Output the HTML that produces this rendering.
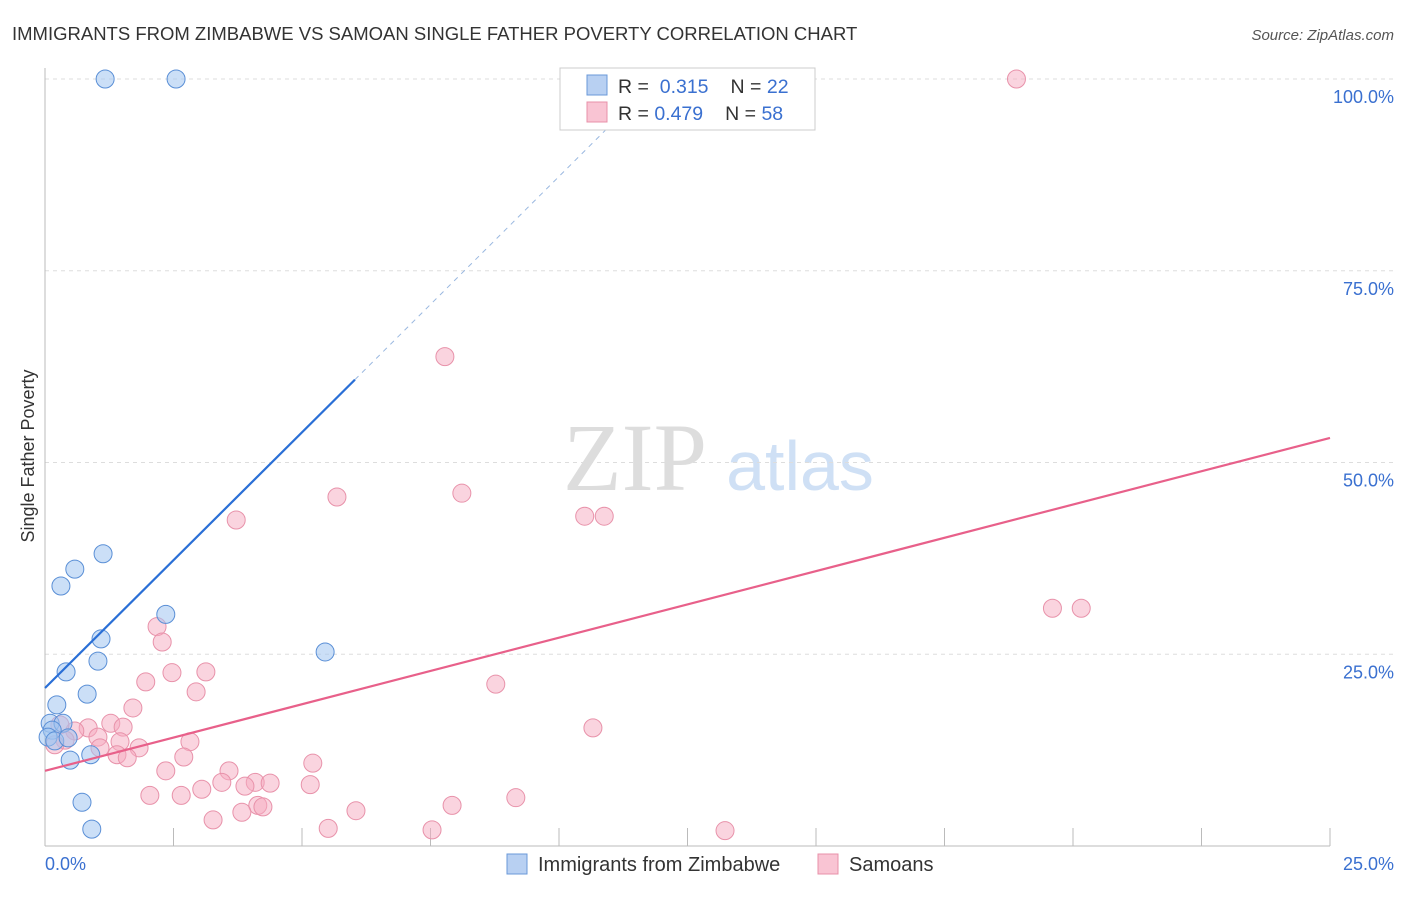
<!DOCTYPE html>
<html><head><meta charset="utf-8"><style>
body{margin:0;background:#fff;font-family:"Liberation Sans",sans-serif;}
</style></head><body>
<svg width="1406" height="892" xmlns="http://www.w3.org/2000/svg" font-family="Liberation Sans, sans-serif">
<text x="12" y="40" font-size="18.5" fill="#333">IMMIGRANTS FROM ZIMBABWE VS SAMOAN SINGLE FATHER POVERTY CORRELATION CHART</text>
<text x="1394" y="40" font-size="15" fill="#555" text-anchor="end" font-style="italic">Source: ZipAtlas.com</text>
<text x="635" y="490" font-size="96" fill="#ddd" font-family="Liberation Serif, serif" text-anchor="middle">ZIP</text>
<text x="800" y="490" font-size="70" fill="#cfe0f5" text-anchor="middle">atlas</text>
<g id="grid"></g>
<line x1="45" y1="68" x2="45" y2="846" stroke="#bbb"/>
<line x1="45" y1="846" x2="1330" y2="846" stroke="#bbb"/>
<text x="34" y="456" font-size="18" fill="#333" transform="rotate(-90 34 456)" text-anchor="middle">Single Father Poverty</text>
<text x="45" y="870" font-size="18" fill="#3a70d0">0.0%</text>
<text x="1394" y="870" font-size="18" fill="#3a70d0" text-anchor="end">25.0%</text>
<g id="marks"></g>
<g>
<rect x="560" y="68" width="255" height="62" fill="#fff" stroke="#ccc"/>
<rect x="587" y="75" width="20" height="20" fill="#b8d0f2" stroke="#6a98d8"/>
<rect x="587" y="102" width="20" height="20" fill="#f9c4d3" stroke="#e890a8"/>
<text x="618" y="93" font-size="19.5" fill="#333">R = <tspan fill="#3a70d0">&#160;0.315</tspan><tspan dx="22">N = </tspan><tspan fill="#3a70d0">22</tspan></text>
<text x="618" y="120" font-size="19.5" fill="#333">R = <tspan fill="#3a70d0">0.479</tspan><tspan dx="22">N = </tspan><tspan fill="#3a70d0">58</tspan></text>
</g>
<g>
<rect x="507" y="854" width="20" height="20" fill="#b8d0f2" stroke="#6a98d8"/>
<text x="538" y="871" font-size="20" fill="#333">Immigrants from Zimbabwe</text>
<rect x="818" y="854" width="20" height="20" fill="#f9c4d3" stroke="#e890a8"/>
<text x="849" y="871" font-size="20" fill="#333">Samoans</text>
</g>
</svg>
<script>
const yTicks=[25,50,75,100];
const yTickLabels=["25.0%","50.0%","75.0%","100.0%"];
const xTicks=[2.5,5,7.5,10,12.5,15,17.5,20,22.5,25];
const blueX=[1.17,2.55,1.13,0.58,0.31,2.35,1.09,1.03,0.41,0.82,0.23,5.45,0.10,0.35,0.14,0.06,0.19,0.45,0.49,0.89,0.72,0.91];
const blueY=[100,100,38.1,36.1,33.9,30.2,27.0,24.1,22.7,19.8,18.4,25.3,16.0,16.0,15.1,14.2,13.7,14.1,11.2,11.9,5.7,2.2];
const pinkX=[18.9,7.78,5.68,8.11,3.72,10.5,10.88,19.6,20.16,2.18,2.28,2.47,3.13,1.96,8.77,2.94,1.71,1.28,1.52,10.66,0.84,0.58,1.03,0.29,1.46,2.82,1.83,1.07,1.40,1.60,2.70,5.21,2.35,3.58,3.44,4.09,4.38,3.89,5.16,3.05,2.04,2.65,9.16,4.14,4.24,7.92,6.05,3.83,3.27,5.51,7.53,13.23,0.39,0.19];
const pinkY=[100,63.8,45.5,46.0,42.5,43.0,43.0,31.0,31.0,28.6,26.6,22.6,22.7,21.4,21.1,20.1,18.0,16.0,15.5,15.4,15.4,15.0,14.2,15.8,13.6,13.6,12.8,12.8,11.9,11.5,11.6,10.8,9.8,9.8,8.3,8.3,8.2,7.8,8.0,7.4,6.6,6.6,6.3,5.3,5.1,5.3,4.6,4.4,3.4,2.3,2.1,2.0,13.8,13.2];
const blueTrend=[[0,20.6],[6.03,60.8]];
const blueDash=[[6.03,60.8],[10.9,93.3]];
const pinkTrend=[[0,9.8],[25,53.2]];
const NS="http://www.w3.org/2000/svg";
const sx=v=>45+v/25*1285, sy=v=>846-v*7.67;
const grid=document.getElementById('grid'), marks=document.getElementById('marks');
function mk(tag,attrs,parent){const e=document.createElementNS(NS,tag);for(const k in attrs)e.setAttribute(k,attrs[k]);parent.appendChild(e);return e;}
yTicks.forEach((t,i)=>{
 const l=mk('line',{x1:45,x2:1394,y1:sy(t),y2:sy(t),stroke:'#ddd','stroke-dasharray':'4,4'},grid);
 
 
 const tx=mk('text',{x:1394,y:sy(t)+24,'font-size':18,fill:'#3a70d0','text-anchor':'end'},grid);
 tx.textContent=yTickLabels[i];
 
 
});
xTicks.forEach(t=>{
 const l=mk('line',{x1:sx(t),x2:sx(t),y1:828,y2:846,stroke:'#bbb'},grid);
 
 
});
function line(p,st,dash,name){const l=mk('line',{x1:sx(p[0][0]),y1:sy(p[0][1]),x2:sx(p[1][0]),y2:sy(p[1][1]),stroke:st,'stroke-width':dash?1:2.2},marks);if(dash)l.setAttribute('stroke-dasharray','5,5');
 
 }
pinkX.forEach((x,i)=>{const c=mk('circle',{cx:sx(x),cy:sy(pinkY[i]),r:9,fill:'rgba(246,170,192,0.5)',stroke:'#e892aa','stroke-width':1},marks);
 
 });
blueX.forEach((x,i)=>{const c=mk('circle',{cx:sx(x),cy:sy(blueY[i]),r:9,fill:'rgba(160,196,240,0.55)',stroke:'#5a8fd6','stroke-width':1},marks);
 
 });
line(blueTrend,'#2a6fd6',false,'zimbabwe-trend-line');
line(blueDash,'#9ab8e0',true,'zimbabwe-trend-extension');
line(pinkTrend,'#e8608a',false,'samoan-trend-line');
</script>
</body></html>
